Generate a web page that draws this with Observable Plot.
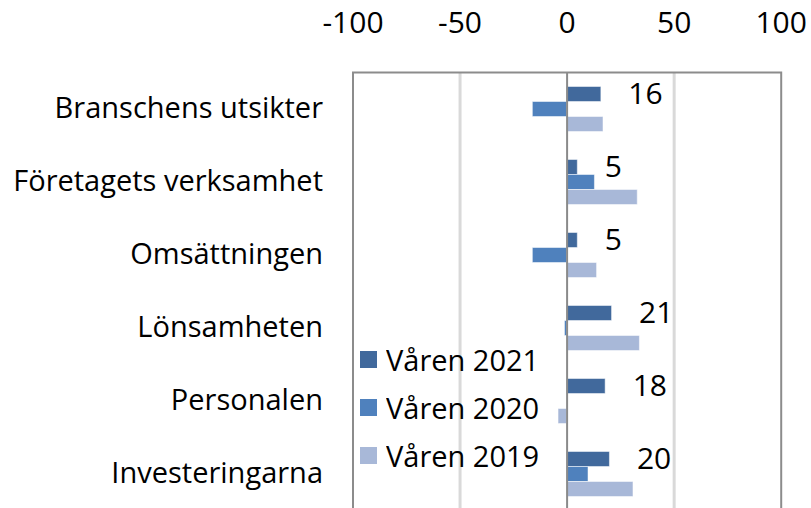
<!DOCTYPE html>
<html>
<head>
<meta charset="utf-8">
<script src="https://cdn.jsdelivr.net/npm/d3@7"></script>
<script src="https://cdn.jsdelivr.net/npm/@observablehq/plot@0.6"></script>
<style>
  html, body { margin: 0; padding: 0; background: #fff; overflow: hidden; }
  #wrap { position: relative; width: 811px; height: 508px; overflow: hidden; font-family: "Open Sans", sans-serif; }
  #chart { height: 508px; overflow: hidden; }
  #legend { position: absolute; left: 360px; top: 335px; }
  .lg-swatch { height: 48px; padding-bottom: 0 !important; }
  .lg-swatch svg { margin-right: 9px !important; }
</style>
</head>
<body>
<div id="wrap"><div id="chart"></div><div id="legend"></div></div>
<script>
const categories = ["Branschens utsikter", "Företagets verksamhet", "Omsättningen", "Lönsamheten", "Personalen", "Investeringarna"];
const series = ["Våren 2021", "Våren 2020", "Våren 2019"];
const v2021 = [16, 5, 5, 21, 18, 20];
const v2020 = [-16, 13, -16, -1, 0, 10];
const v2019 = [17, 33, 14, 34, -4, 31];
const colors = ["#41699c", "#4f81bd", "#a8b8d8"];
const xTicks = [-100, -50, 0, 50, 100];
const gridTicks = [-50, 50];

const valuesBySeries = [v2021, v2020, v2019];
const table = [];
categories.forEach((c, i) => series.forEach((s, j) => table.push({category: c, series: s, value: valuesBySeries[j][i]})));
const labels = table.filter(d => d.series === series[0]);

const font = "'Open Sans', sans-serif";

const chart = Plot.plot({
  width: 811,
  height: 513,
  marginTop: 70.5,
  marginLeft: 352.5,
  marginRight: 30.3,
  marginBottom: 0.7,
  style: {fontFamily: font, fontSize: "29px", color: "#000", background: "#fff", overflow: "hidden"},
  facet: {marginTop: 0, marginBottom: 0, marginLeft: 0, marginRight: 0},
  x: {domain: [-100, 100], axis: null},
  fy: {domain: categories, padding: 0, axis: null},
  y: {domain: series, paddingInner: 0, paddingOuter: 0.875, axis: null},
  color: {domain: series, range: colors},
  marks: [
    Plot.ruleX(gridTicks, {stroke: "#d9d9d9", strokeWidth: 3}),
    Plot.barX(table, {x: "value", y: "series", fy: "category", fill: "series", stroke: "#ffffff", strokeOpacity: 0.5, strokeWidth: 1}),
    Plot.ruleX([0], {stroke: "#8a8a8a", strokeWidth: 2}),
    Plot.text(labels, {x: "value", y: "series", fy: "category", text: d => String(d.value), textAnchor: "start", dx: 27, fontSize: 30, fill: "#000"}),
    Plot.frame({facet: "super", stroke: "#8c8c8c", strokeWidth: 2}),
    Plot.axisX({anchor: "top", ticks: xTicks, tickSize: 0, tickPadding: 40, tickFormat: d => String(d), fontSize: 30, label: null, fill: "#000"}),
    Plot.axisFy({anchor: "left", tickSize: 0, tickPadding: 30, fontSize: 29, label: null, fill: "#000"})
  ]
});
document.getElementById("chart").appendChild(chart);

const legend = Plot.legend({
  color: {domain: series, range: colors},
  columns: 1,
  swatchSize: 17,
  className: "lg",
  style: {fontFamily: font, fontSize: "29px", color: "#000"}
});
document.getElementById("legend").appendChild(legend);
</script>
</body>
</html>
